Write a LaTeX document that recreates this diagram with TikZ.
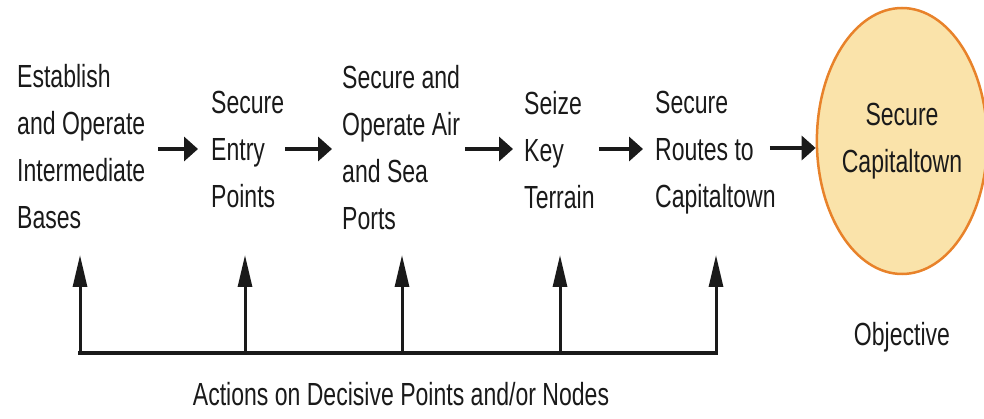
\documentclass[tikz,border=0pt]{standalone}
\usepackage{fontspec}
\setmainfont[FakeStretch=0.72]{Liberation Sans}
\usetikzlibrary{arrows.meta,shapes.geometric}
\definecolor{ellfill}{HTML}{FAE3AA}
\definecolor{elldraw}{HTML}{E8822A}
\definecolor{ink}{HTML}{1A1A1A}
\begin{document}
\begin{tikzpicture}[x=1pt,y=-1pt,
  lbl/.style={inner sep=0pt, align=left, anchor=base west, text=ink, font=\fontsize{32}{47}\selectfont},
  harrow/.style={draw=ink, line width=4.5pt, -{Triangle[length=14pt,width=24pt]}},
  varrow/.style={draw=ink, line width=3pt, -{Triangle[length=32pt,width=14pt]}},
  bus/.style={draw=ink, line width=4pt, line cap=rect},
  goal/.style={ellipse, draw=elldraw, fill=ellfill, line width=2.5pt, minimum width=160pt, minimum height=266pt, inner sep=0pt, align=center, text=ink, font=\fontsize{32}{47}\selectfont}
]
\useasboundingbox (0,0) rectangle (984,419);
\node[lbl] (n1) at (17,229) {Establish\\and Operate\\Intermediate\\Bases};
\node[lbl] (n2) at (211,208) {Secure\\Entry\\Points};
\node[lbl] (n3) at (342,230) {Secure and\\Operate Air\\and Sea\\Ports};
\node[lbl] (n4) at (524,209) {Seize\\Key\\Terrain};
\node[lbl] (n5) at (655,208) {Secure\\Routes to\\Capitaltown};
\node[goal] (g) at (902,141) {Secure\\Capitaltown};
\node[lbl, anchor=base] (obj) at (902,345) {Objective};
\node[lbl, anchor=base] (act) at (401,405) {Actions on Decisive Points and/or Nodes};

\draw[harrow] ([xshift=13pt]n1.east |- 0,149) -- ([xshift=-13pt]n2.west |- 0,149);
\draw[harrow] ([xshift=1pt]n2.east |- 0,149) -- ([xshift=-10pt]n3.west |- 0,149);
\draw[harrow] ([xshift=5pt]n3.east |- 0,149) -- ([xshift=-11pt]n4.west |- 0,149);
\draw[harrow] ([xshift=4pt]n4.east |- 0,149) -- ([xshift=-12pt]n5.west |- 0,149);
\draw[harrow] ([xshift=-6pt]n5.east |- 0,148) -- (g.west |- 0,148);

\foreach \i/\x in {1/80,2/245,3/402,4/560,5/716}{
  \coordinate (b\i) at (\x,353);
  \coordinate (t\i) at (\x,255);
}
\draw[bus] (b1) -- (b5);
\foreach \i in {1,...,5}{ \draw[varrow] (b\i) -- (t\i); }
\end{tikzpicture}
\end{document}
